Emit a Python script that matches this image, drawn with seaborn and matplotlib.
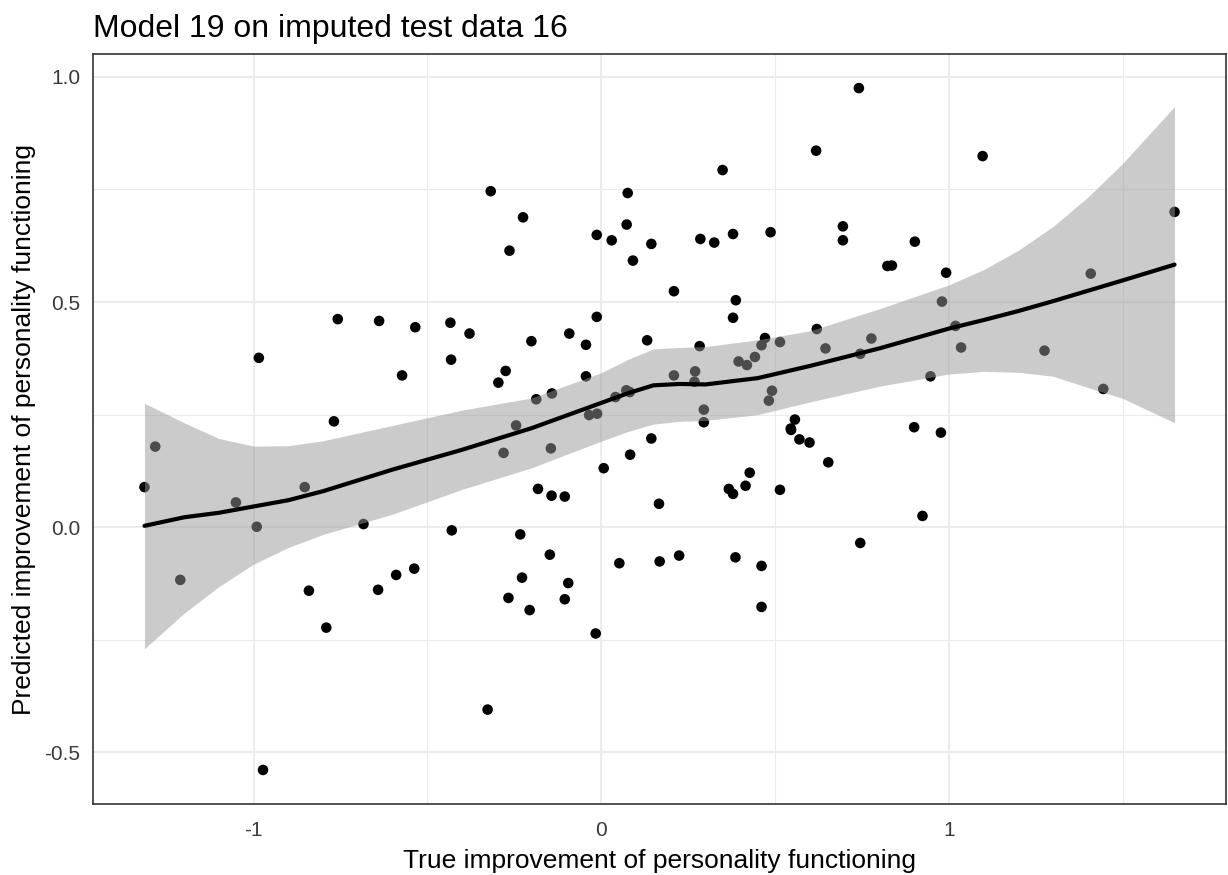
import numpy as np
import pandas as pd
import matplotlib
matplotlib.use("Agg")
import matplotlib.pyplot as plt
import seaborn as sns
from matplotlib.ticker import MultipleLocator

true_impr = [
    -0.758, -0.639, -0.535, -0.434, -0.379, -0.985, -0.432, -0.573, -0.769,
    -1.283, -1.314, -1.051, -0.853, -0.991, -0.684, -0.430, -1.211, -0.841,
    -0.642, -0.590, -0.538, -0.791, -0.973,
    0.618, 0.349, -0.318, 0.076, -0.225, 0.073, -0.013, 0.030, 0.144, -0.264,
    0.091, 0.285, 0.325, 0.379, 0.487, 0.695, 0.695, 0.209, 0.387, 0.379,
    -0.013, -0.201, -0.092, -0.044, 0.132, 0.283, 0.620, 0.645, 0.514, 0.471,
    0.461, 0.442, 0.395, 0.419, -0.275, -0.296, -0.044, 0.209, 0.270, 0.268,
    -0.187, -0.142, 0.041, 0.072, 0.082, -0.035, -0.012, 0.295, 0.295, 0.491,
    0.482, 0.557, 0.545, -0.245,
    -0.281, -0.145, 0.144, 0.083, 0.007, -0.182, -0.143, -0.105, 0.166, 0.546,
    0.570, 0.599, 0.653, 0.427, 0.415, 0.367, 0.379, 0.514, -0.233, -0.148,
    -0.228, -0.267, -0.206, -0.095, -0.105, -0.016, -0.327, 0.052, 0.168,
    0.224, 0.386, 0.461, 0.461,
    0.741, 1.097, 1.649, 0.902, 0.823, 0.836, 0.992, 0.980, 1.408, 0.777,
    0.745, 1.019, 1.035, 1.275, 0.947, 1.444, 0.900, 0.977, 0.924, 0.745,
]
pred_impr = [
    0.462, 0.458, 0.444, 0.454, 0.430, 0.376, 0.372, 0.337, 0.235,
    0.179, 0.089, 0.055, 0.089, 0.001, 0.007, -0.007, -0.117, -0.141,
    -0.139, -0.106, -0.092, -0.223, -0.539,
    0.836, 0.793, 0.746, 0.742, 0.688, 0.672, 0.649, 0.637, 0.629, 0.614,
    0.592, 0.640, 0.632, 0.651, 0.655, 0.668, 0.637, 0.524, 0.504, 0.465,
    0.467, 0.413, 0.430, 0.405, 0.415, 0.402, 0.440, 0.397, 0.411, 0.420,
    0.404, 0.378, 0.368, 0.360, 0.347, 0.321, 0.335, 0.337, 0.346, 0.323,
    0.284, 0.297, 0.289, 0.304, 0.300, 0.249, 0.252, 0.261, 0.233, 0.303,
    0.281, 0.239, 0.219, 0.226,
    0.165, 0.175, 0.197, 0.161, 0.131, 0.085, 0.070, 0.068, 0.052, 0.216,
    0.195, 0.188, 0.144, 0.121, 0.092, 0.085, 0.074, 0.083, -0.016, -0.061,
    -0.112, -0.157, -0.184, -0.124, -0.160, -0.236, -0.405, -0.080, -0.076,
    -0.063, -0.067, -0.086, -0.177,
    0.975, 0.824, 0.700, 0.634, 0.580, 0.581, 0.565, 0.501, 0.563, 0.419,
    0.385, 0.447, 0.399, 0.392, 0.335, 0.307, 0.222, 0.210, 0.025, -0.035,
]

# loess smooth and its confidence band
smooth_x = [-1.314, -1.2, -1.1, -1.0, -0.9, -0.8, -0.6, -0.4, -0.2, 0.0,
            0.075, 0.15, 0.225, 0.3, 0.45, 0.6, 0.8, 1.0, 1.1, 1.2, 1.3,
            1.4, 1.5, 1.649]
smooth_y = [0.003, 0.022, 0.032, 0.046, 0.060, 0.080, 0.128, 0.172, 0.220,
            0.276, 0.297, 0.315, 0.318, 0.317, 0.331, 0.358, 0.397, 0.441,
            0.460, 0.480, 0.502, 0.525, 0.548, 0.583]
smooth_hi = [0.275, 0.232, 0.197, 0.180, 0.181, 0.192, 0.226, 0.260, 0.287,
             0.343, 0.372, 0.396, 0.399, 0.401, 0.416, 0.436, 0.485, 0.538,
             0.572, 0.615, 0.668, 0.733, 0.808, 0.934]
smooth_lo = [-0.270, -0.191, -0.132, -0.082, -0.045, -0.016, 0.029, 0.084,
             0.132, 0.191, 0.212, 0.229, 0.235, 0.237, 0.250, 0.278, 0.313,
             0.340, 0.346, 0.344, 0.335, 0.310, 0.286, 0.232]

points = pd.DataFrame({"true": true_impr, "pred": pred_impr})
smooth = pd.DataFrame({"x": smooth_x, "y": smooth_y,
                       "lo": smooth_lo, "hi": smooth_hi})

sns.set_style("white")
plt.rcParams['font.family'] = ['Liberation Sans', 'DejaVu Sans']
plt.rcParams['axes.unicode_minus'] = False

fig = plt.figure(figsize=(12.28, 8.75), dpi=100)
ax = fig.add_axes([0.0757, 0.0811, 0.9227, 0.8572])

sns.scatterplot(data=points, x="true", y="pred", ax=ax, color="black",
                s=58, edgecolor="none", zorder=2)
ax.fill_between(smooth["x"], smooth["lo"], smooth["hi"], color="#999999",
                alpha=0.5, linewidth=0, zorder=3)
sns.lineplot(data=smooth, x="x", y="y", ax=ax, color="black",
             linewidth=3.0, zorder=4)

# ggplot-style expanded limits
xr = (min(true_impr), max(true_impr))
yr = (min(pred_impr), max(pred_impr))
dx, dy = xr[1] - xr[0], yr[1] - yr[0]
ax.set_xlim(xr[0] - 0.05 * dx, xr[1] + 0.05 * dx)
ax.set_ylim(yr[0] - 0.05 * dy, yr[1] + 0.05 * dy)

ax.xaxis.set_major_locator(MultipleLocator(1))
ax.xaxis.set_minor_locator(MultipleLocator(0.5))
ax.yaxis.set_major_locator(MultipleLocator(0.5))
ax.yaxis.set_minor_locator(MultipleLocator(0.25))
ax.set_yticks([-0.5, 0.0, 0.5, 1.0])
ax.set_yticklabels(["-0.5", "0.0", "0.5", "1.0"])
ax.set_xticks([-1, 0, 1])
ax.set_xticklabels(["-1", "0", "1"])

ax.grid(which="major", color="#EBEBEB", linewidth=1.3, zorder=0)
ax.grid(which="minor", color="#EBEBEB", linewidth=0.8, zorder=0)
ax.set_axisbelow(True)
for sp in ax.spines.values():
    sp.set_color("#333333")
    sp.set_linewidth(1.2)
ax.tick_params(which="major", direction="out", length=5, width=1.2,
               color="#333333", labelcolor="#3A3A3A", labelsize=15)
ax.tick_params(axis="x", which="major", pad=7)
ax.tick_params(axis="y", which="major", pad=4)
ax.tick_params(which="minor", length=0)

ax.set_xlabel("True improvement of personality functioning", fontsize=19,
              color="black", labelpad=7)
ax.set_ylabel("Predicted improvement of personality functioning", fontsize=19,
              color="black", labelpad=6)
ax.set_title("Model 19 on imputed test data 16", loc="left", fontsize=23,
             color="black", pad=12)

fig.savefig("out.png", dpi=100)
